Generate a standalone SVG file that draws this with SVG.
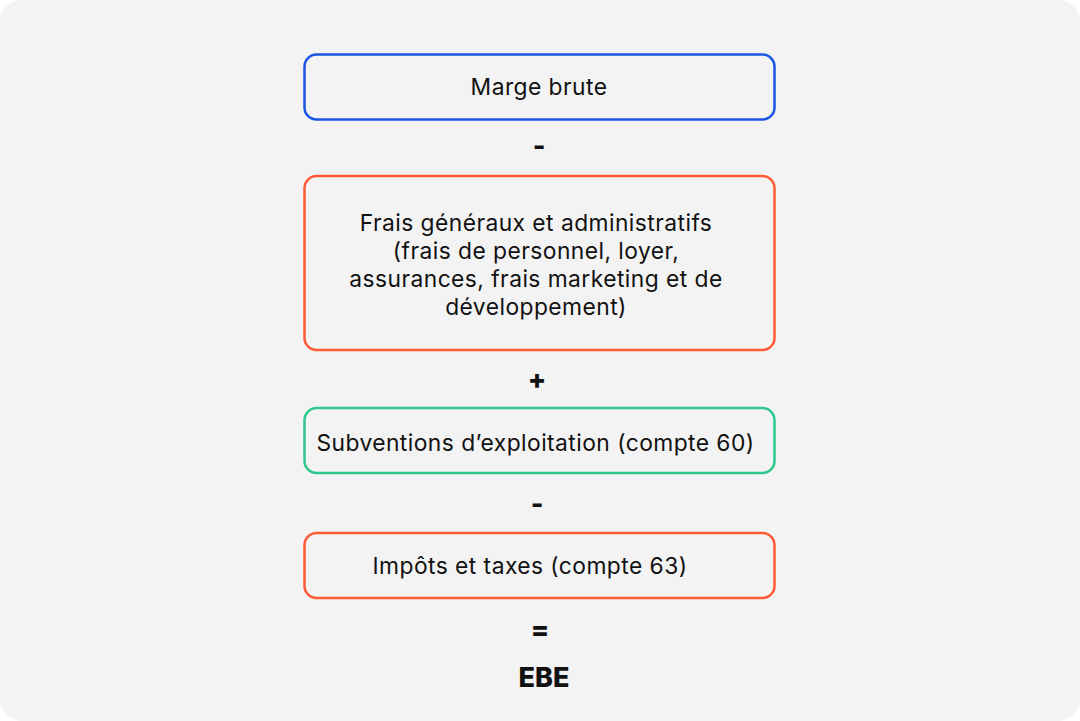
<svg xmlns="http://www.w3.org/2000/svg" width="1080" height="721" viewBox="0 0 1080 721">
<style>
.box{fill:none;stroke-width:2.5}
.t{font-family:Inter,"Open Sans","Liberation Sans",sans-serif;font-size:22.8px;letter-spacing:0.45px;fill:#111;text-anchor:middle}
.op{font-family:Inter,"Liberation Sans",sans-serif;font-size:27px;font-weight:800;fill:#111;text-anchor:middle}
</style>
<rect x="0" y="0" width="1080" height="721" fill="#ffffff"/>
<rect x="0" y="0" width="1080" height="721" rx="22" fill="#f3f3f3"/>
<g id="node-marge">
<rect class="box" x="304.5" y="54.5" width="470" height="65" rx="12" stroke="#1b55e3"/>
<text class="t" x="539" y="95">Marge brute</text>
</g>
<g id="node-frais">
<rect class="box" x="304.5" y="176" width="470" height="174" rx="12" stroke="#ff5a36"/>
<text class="t" x="536" y="231">Frais généraux et administratifs</text>
<text class="t" x="536" y="259">(frais de personnel, loyer,</text>
<text class="t" x="536" y="287">assurances, frais marketing et de</text>
<text class="t" x="536" y="315">développement)</text>
</g>
<g id="node-subv">
<rect class="box" x="304.5" y="408" width="470" height="65" rx="12" stroke="#2ec78c"/>
<text class="t" x="535.5" y="451">Subventions d’exploitation (compte 60)</text>
</g>
<g id="node-impots">
<rect class="box" x="304.5" y="533" width="470" height="65" rx="12" stroke="#ff5a36"/>
<text class="t" x="530" y="574">Impôts et taxes (compte 63)</text>
</g>
<g id="connectors">
<text class="op" x="539" y="155">-</text>
<text class="op" x="537" y="389">+</text>
<text class="op" x="537" y="513">-</text>
<text class="op" x="540" y="639">=</text>
</g>
<g id="node-ebe">
<text class="op" x="544" y="687" font-size="31">EBE</text>
</g>
</svg>
